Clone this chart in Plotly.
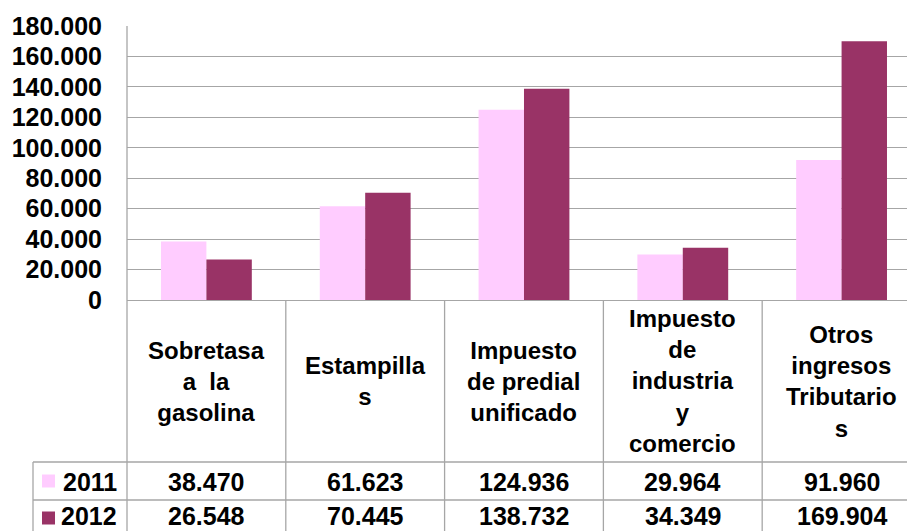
import plotly.graph_objects as go

categories = [
    "Sobretasa<br>a  la<br>gasolina",
    "Estampilla<br>s",
    "Impuesto<br>de predial<br>unificado",
    "Impuesto<br>de<br>industria<br>y<br>comercio",
    "Otros<br>ingresos<br>Tributario<br>s",
]
series_names = ["2011", "2012"]
values_2011 = [38470, 61623, 124936, 29964, 91960]
values_2012 = [26548, 70445, 138732, 34349, 169904]
value_labels_2011 = ["38.470", "61.623", "124.936", "29.964", "91.960"]
value_labels_2012 = ["26.548", "70.445", "138.732", "34.349", "169.904"]
colors = ["#FFCCFF", "#993366"]
y_ticks = [0, 20000, 40000, 60000, 80000, 100000, 120000, 140000, 160000, 180000]

W, H = 907, 531
L, T, B, R = 127, 26, 300, 907
XR = [-0.5, 4.412]
FONT = "Liberation Sans, Arial, sans-serif"
GRID = "#A6A6A6"

def py(pix):
    return (B - pix) / (B - T)

def pxp(pix):
    return (pix - L) / (R - L)

def cx(i):
    return (i - XR[0]) / (XR[1] - XR[0])

idx = list(range(len(categories)))

fig = go.Figure()
fig.add_trace(go.Bar(x=idx, y=values_2011, name=series_names[0],
                     marker=dict(color=colors[0], line=dict(width=0))))
fig.add_trace(go.Bar(x=idx, y=values_2012, name=series_names[1],
                     marker=dict(color=colors[1], line=dict(width=0))))

shapes = []
line = dict(color=GRID, width=1.3)
# left border of plot + header column
shapes.append(dict(type="line", xref="paper", yref="paper",
                   x0=0, x1=0, y0=py(T), y1=py(H + 5), line=line))
# vertical category boundaries in the table
for i in idx[1:]:
    xb = cx(i - 0.5)
    shapes.append(dict(type="line", xref="paper", yref="paper",
                       x0=xb, x1=xb, y0=py(B), y1=py(H + 5), line=line))
# legend column left border
shapes.append(dict(type="line", xref="paper", yref="paper",
                   x0=pxp(33), x1=pxp(33), y0=py(462), y1=py(H + 5), line=line))
# horizontal row separators
for yy in [462, 500]:
    shapes.append(dict(type="line", xref="paper", yref="paper",
                       x0=pxp(33), x1=1.0, y0=py(yy), y1=py(yy), line=line))
# legend keys
for k, yy in enumerate([481, 518]):
    shapes.append(dict(type="rect", xref="paper", yref="paper",
                       x0=pxp(42), x1=pxp(55), y0=py(yy - 6.5), y1=py(yy + 6.5),
                       fillcolor=colors[k], line=dict(width=0)))

annotations = []
for i, c in zip(idx, categories):
    annotations.append(dict(x=i, xref="x", y=py(381), yref="paper", text=c,
                            showarrow=False, xanchor="center", yanchor="middle",
                            align="center",
                            font=dict(family=FONT, size=24, color="black", weight="bold")))
for row, (labels, yy) in enumerate([(value_labels_2011, 482), (value_labels_2012, 516)]):
    for i, t in zip(idx, labels):
        annotations.append(dict(x=i, xref="x", y=py(yy), yref="paper", text=t,
                                showarrow=False, xanchor="center", yanchor="middle",
                                font=dict(family=FONT, size=25, color="black", weight="bold")))
    annotations.append(dict(x=pxp(119), xref="paper", y=py(yy), yref="paper",
                            text=series_names[row], showarrow=False,
                            xanchor="right", yanchor="middle",
                            font=dict(family=FONT, size=25, color="black", weight="bold")))

fig.update_layout(
    width=W, height=H,
    margin=dict(l=L, r=W - R, t=T, b=H - B, pad=0),
    paper_bgcolor="white", plot_bgcolor="white",
    barmode="group", bargap=0.428, bargroupgap=0,
    showlegend=False,
    separators=",.",
    xaxis=dict(range=XR, showticklabels=False, showgrid=False, zeroline=False,
               showline=False, fixedrange=True),
    yaxis=dict(range=[0, 180000], tickvals=y_ticks, tickformat=",d",
               showgrid=True, gridcolor=GRID, gridwidth=1.3,
               zeroline=True, zerolinecolor=GRID, zerolinewidth=1.3,
               showline=False, ticks="", ticklabelstandoff=24,
               tickfont=dict(family=FONT, size=25, color="black", weight="bold")),
    shapes=shapes,
    annotations=annotations,
)

fig.write_html(
    "out.html",
    config={"displayModeBar": False},
    post_script="document.body.style.margin='0';document.body.style.overflow='hidden';",
)
